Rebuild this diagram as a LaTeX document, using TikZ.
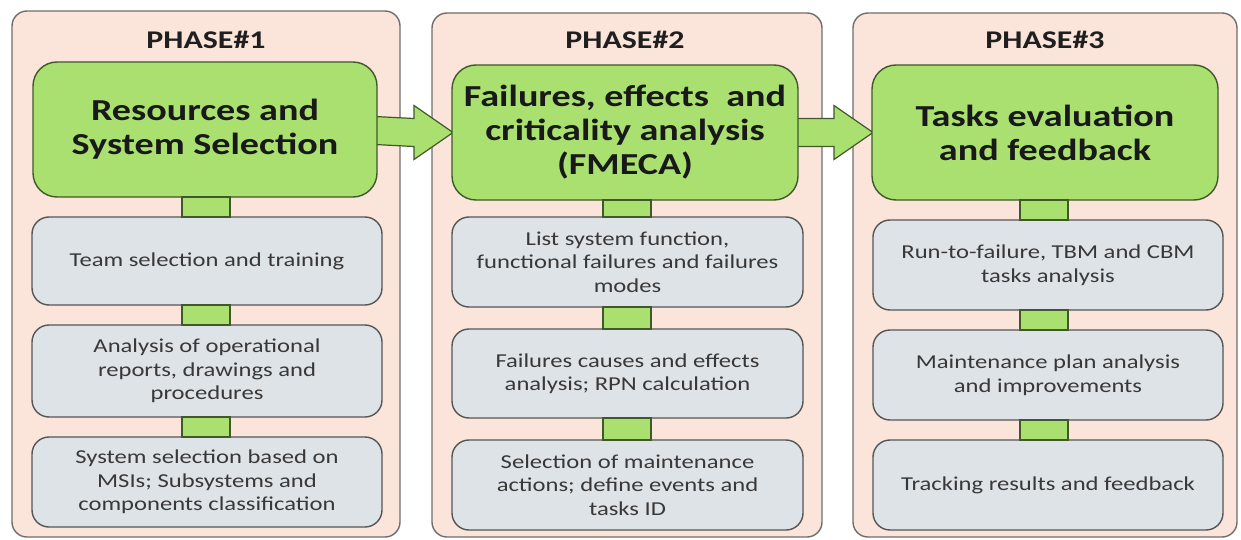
\documentclass[tikz,border=0pt]{standalone}
\usepackage{fontspec}
\setmainfont{Carlito}[FakeStretch=1.25]
\usetikzlibrary{calc}
\definecolor{outerfill}{RGB}{251,229,218}
\definecolor{outerdraw}{RGB}{110,110,110}
\definecolor{gfill}{RGB}{170,224,112}
\definecolor{gdraw}{RGB}{64,88,44}
\definecolor{bfill}{RGB}{222,227,232}
\definecolor{bdraw}{RGB}{85,85,85}
\definecolor{txtg}{RGB}{56,56,56}
\tikzset{
  phasebox/.style={draw=outerdraw, fill=outerfill, line width=1.4pt, rounded corners=15pt, inner sep=0pt, outer sep=0pt},
  phasetitle/.style={font=\bfseries\fontsize{25.5}{29}\selectfont, text=black!88, inner sep=0pt},
  greenbox/.style={draw=gdraw, fill=gfill, line width=1.4pt, rounded corners=24pt, inner sep=0pt, outer sep=0pt, minimum height=135pt, align=center, font=\bfseries\fontsize{30.5}{34}\selectfont, text=black!90},
  graybox/.style={draw=bdraw, fill=bfill, line width=1.4pt, rounded corners=17pt, inner sep=0pt, outer sep=0pt, minimum width=350pt, align=center, font=\fontsize{19.7}{23.5}\selectfont, text=txtg},
  linkbar/.style={draw=gdraw, fill=gfill, line width=1.4pt},
  bigarrow/.style={draw=gdraw, fill=gfill, line width=1.2pt, line join=miter}
}
\begin{document}
\begin{tikzpicture}[x=1pt,y=-1pt]
\useasboundingbox (0,0) rectangle (1241,540);
\fill[white] (0,0) rectangle (1241,540);
% phase frames
\node[phasebox, minimum width=388pt, minimum height=526pt] (p1) at (206,274) {};
\node[phasebox, minimum width=390pt, minimum height=524pt] (p2) at (627,275) {};
\node[phasebox, minimum width=384pt, minimum height=524pt] (p3) at (1045,275) {};
\node[phasetitle] (h1) at (206,40) {PHASE\#1};
\node[phasetitle] (h2) at (625,40) {PHASE\#2};
\node[phasetitle] (h3) at (1045,40) {PHASE\#3};
% coordinates for green boxes
\coordinate (cg1) at (205,129.5);
\coordinate (cg2) at (625,132.5);
\coordinate (cg3) at (1045,132.5);
% arrows (drawn under green boxes)
\draw[bigarrow] ($(cg1)+(150,-14)$) -- ($(cg2)+(-211,-14)$) -- ($(cg2)+(-211,-27)$) -- ($(cg2)+(-172,0)$) -- ($(cg2)+(-211,27)$) -- ($(cg2)+(-211,14)$) -- ($(cg1)+(150,14)$) -- cycle;
\draw[bigarrow] ($(cg2)+(150,-14)$) -- ($(cg3)+(-211,-14)$) -- ($(cg3)+(-211,-27)$) -- ($(cg3)+(-172,0)$) -- ($(cg3)+(-211,27)$) -- ($(cg3)+(-211,14)$) -- ($(cg2)+(150,14)$) -- cycle;
% green boxes
\node[greenbox, minimum width=344pt] (g1) at (cg1) {Resources and\\System Selection};
\node[greenbox, minimum width=346pt] (g2) at (cg2) {Failures, effects\ \ and\\criticality analysis\\(FMECA)};
\node[greenbox, minimum width=346pt] (g3) at (cg3) {Tasks evaluation\\and feedback};
% gray boxes phase 1
\node[graybox, minimum height=88pt] (a1) at (207,261) {Team selection and training};
\node[graybox, minimum height=92pt] (a2) at (207,371) {Analysis of operational\\reports, drawings and\\procedures};
\node[graybox, minimum height=90pt] (a3) at (207,482) {System selection based on\\MSIs; Subsystems and\\components classification};
% phase 2
\node[graybox, minimum width=351pt, minimum height=90pt] (b1) at (627.5,262) {List system function,\\functional failures and failures\\modes};
\node[graybox, minimum width=351pt, minimum height=89pt] (b2) at (627.5,373.5) {Failures causes and effects\\analysis; RPN calculation};
\node[graybox, minimum width=351pt, minimum height=90pt] (b3) at (627.5,485) {Selection of maintenance\\actions; define events and\\tasks ID};
% phase 3
\node[graybox, minimum height=90pt] (c1) at (1048,265) {Run-to-failure, TBM and CBM\\tasks analysis};
\node[graybox, minimum height=90pt] (c2) at (1048,375) {Maintenance plan analysis\\and improvements};
\node[graybox, minimum height=90pt] (c3) at (1048,485) {Tracking results and feedback};
% link bars
\foreach \u/\v/\x in {g1/a1/206, a1/a2/206, a2/a3/206, g2/b1/627, b1/b2/627, b2/b3/627, g3/c1/1044, c1/c2/1044, c2/c3/1044}{
  \draw[linkbar] (\x-24,0 |- \u.south) rectangle (\x+24,0 |- \v.north);
}
\end{tikzpicture}
\end{document}
